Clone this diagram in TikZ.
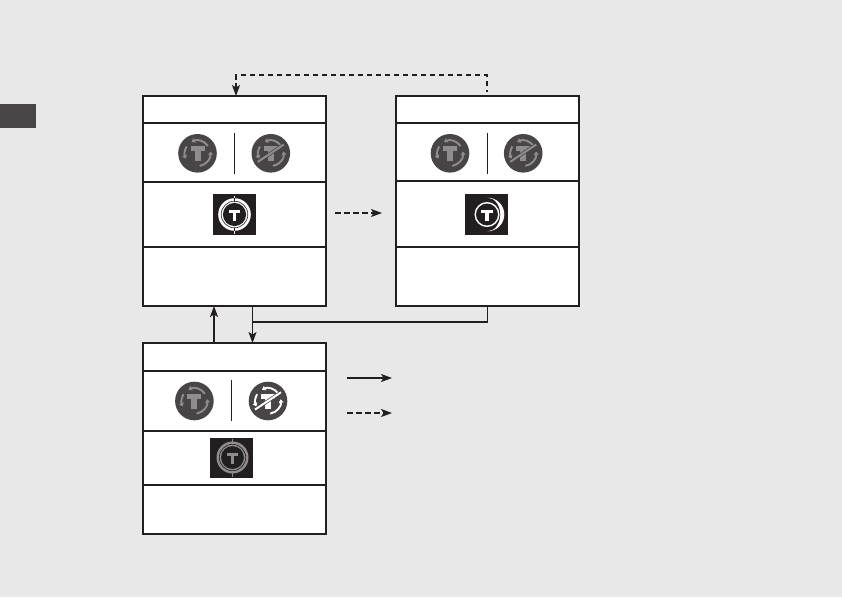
\documentclass[tikz,border=0pt]{standalone}
\usetikzlibrary{arrows.meta,calc}
\definecolor{pagebg}{HTML}{E8E8E8}
\definecolor{ink}{HTML}{231F20}
\definecolor{disc}{HTML}{474545}
\definecolor{soft}{HTML}{8F8D8D}
\tikzset{
  x=1pt,y=-1pt,
  cell/.style={draw=ink,line width=1.5pt,fill=white,rectangle,inner sep=0pt,outer sep=0pt,minimum width=183pt},
  plainflow/.style={draw=ink,line width=1.3pt},
  flow/.style={plainflow,-{Stealth[length=11pt,width=8pt,inset=2.5pt]}},
  dashflow/.style={flow,dash pattern=on 5.5pt off 3.5pt},
  sep/.style={draw=ink,line width=0.8pt},
  tile/.style={fill=ink,draw=none,rectangle,inner sep=0pt,outer sep=0pt,minimum width=43pt},
  tab/.style={fill=disc,draw=none,rectangle,inner sep=0pt,minimum width=36pt,minimum height=24pt},
  ringarc/.style={line width=1.9pt,-{Stealth[length=3.5pt,width=5pt,inset=0.3pt]}},
}
% round status icon: #1 centre, #2 glyph colour, #3 crossed (1) or not (0)
\newcommand{\roundicon}[3]{%
  \begin{scope}[shift={#1}]
    \fill[disc] (0,0) circle (19.3);
    \draw[#2,ringarc] (-35:12.8) arc[start angle=-35,end angle=-118,radius=12.8];
    \draw[#2,ringarc] (80:12.8) arc[start angle=80,end angle=-8,radius=12.8];
    \draw[#2,ringarc] (-148:12.8) arc[start angle=-148,end angle=-205,radius=12.8];
    \fill[#2] (-7,-7) rectangle (7,-2.4);
    \fill[#2] (-3,-6) rectangle (3,8);
    \ifnum#3=1
      \draw[disc,line width=3.4pt] (-14,9.2) -- (14,-9.4);
      \draw[#2,line width=2pt] (-13,8.6) -- (13,-8.8);
    \fi
  \end{scope}}
\newcommand{\tileT}[1]{%
  \fill[#1] (-5.6,-4.8) rectangle (5.6,-1.6);
  \fill[#1] (-1.7,-4) rectangle (1.7,6.8);}
\begin{document}
\begin{tikzpicture}
\useasboundingbox (0,0) rectangle (842,597);
\fill[pagebg] (0,0) rectangle (842,597);
\node[tab] (sidetab) at (18,116) {};

% Left box
\node[cell,minimum height=27pt] (a1) at (234.5,109.5) {};
\node[cell,minimum height=59pt] (a2) at (234.5,152.5) {};
\node[cell,minimum height=65pt] (a3) at (234.5,214.5) {};
\node[cell,minimum height=59pt] (a4) at (234.5,276.5) {};
% Right box
\node[cell,minimum height=27pt] (b1) at (487.5,109.5) {};
\node[cell,minimum height=58pt] (b2) at (487.5,152) {};
\node[cell,minimum height=66pt] (b3) at (487.5,214) {};
\node[cell,minimum height=59pt] (b4) at (487.5,276.5) {};
% Lower box
\node[cell,minimum height=28pt] (c1) at (234.5,357) {};
\node[cell,minimum height=60pt] (c2) at (234.5,401) {};
\node[cell,minimum height=54pt] (c3) at (234.5,458) {};
\node[cell,minimum height=49pt] (c4) at (234.5,509.5) {};

% Separators inside the icon rows
\coordinate (as1) at (234.5,132.5); \coordinate (as2) at (234.5,173.5);
\coordinate (bs1) at (487.5,132.5); \coordinate (bs2) at (487.5,173.5);
\coordinate (cs1) at (231.5,380); \coordinate (cs2) at (231.5,421);
\draw[sep] (as1) -- (as2);
\draw[sep] (bs1) -- (bs2);
\draw[sep] (cs1) -- (cs2);

% Round icons
\roundicon{(197.5,153.3)}{soft}{0}
\roundicon{(270.8,153.3)}{soft}{1}
\roundicon{(450,153.3)}{soft}{0}
\roundicon{(523.2,153.3)}{soft}{1}
\roundicon{(194.4,401)}{soft}{0}
\roundicon{(268,401)}{white}{1}

% Square tiles
\node[tile,minimum height=41pt] (ta) at (234.5,214.5) {};
\node[tile,minimum height=41pt] (tb) at (486.5,214.5) {};
\node[tile,minimum height=40pt] (tc) at (231.5,458) {};
\begin{scope}[shift={(ta.center)}]
  \draw[white,line width=0.6pt] (0,-19)--(0,19);
  \fill[white] (0,0) circle (16.3);
  \draw[ink,line width=0.6pt] (0,0) circle (13.3);
  \fill[ink] (0,0) circle (11.6);
  \draw[ink,line width=0.7pt] (0,-16.3)--(0,-13) (0,13)--(0,16.3);
  \tileT{white}
\end{scope}
\begin{scope}[shift={(tb.center)}]
  \draw[white,line width=1.4pt] (0.5,0) circle (11.8);
  \fill[white] (1,-16.8) arc[start angle=-90,end angle=90,radius=16.8]
     arc[start angle=90,end angle=-90,x radius=12.8,y radius=16.8] -- cycle;
  \begin{scope}[shift={(0.5,0)}]\tileT{white}\end{scope}
\end{scope}
\begin{scope}[shift={($(tc.center)+(1,-0.5)$)}]
  \draw[soft,line width=0.6pt] (0,-19)--(0,19);
  \fill[soft] (0,0) circle (16);
  \draw[ink,line width=0.6pt] (0,0) circle (13.2);
  \fill[ink] (0,0) circle (11.4);
  \tileT{soft}
\end{scope}

% Connectors
\coordinate (dtop) at (487,91.5);
\draw[dashflow,dash phase=3.5pt] (dtop) -- (487,75) -- (236,75) -- ($(a1.north west)+(93,0)$);
\coordinate (midL) at (335,213); \coordinate (midR) at (382,213);
\draw[dashflow] (midL) -- (midR);
\draw[flow] ($(c1.north west)+(71,0)$) -- ($(a4.south west)+(71,0)$);
\coordinate (joint) at ($(a4.south west)+(109.5,16)$);
\draw[plainflow] (b4.south) |- (joint);
\draw[flow] ($(a4.south west)+(109.5,0)$) -- ($(c1.north west)+(109.5,0)$);
% Legend
\coordinate (la) at (347,378); \coordinate (lb) at (392,378);
\coordinate (lc) at (347,413); \coordinate (ld) at (392,413);
\draw[flow] (la) -- (lb);
\draw[dashflow] (lc) -- (ld);
\end{tikzpicture}
\end{document}
